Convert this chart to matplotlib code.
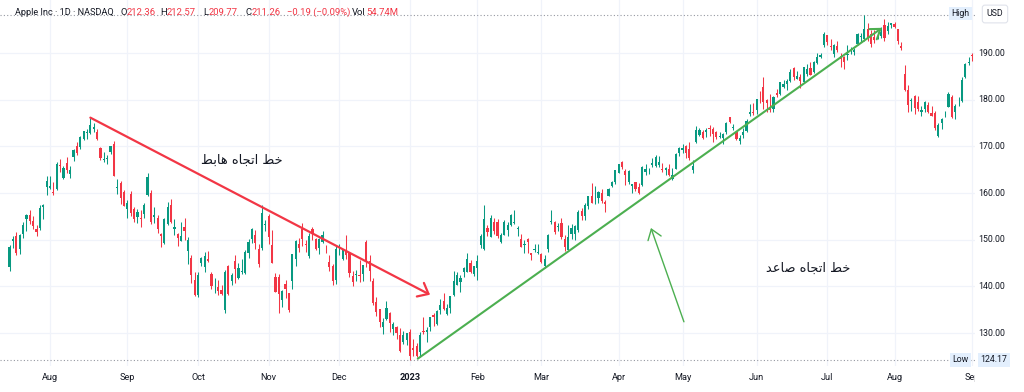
import matplotlib
matplotlib.use("Agg")
import matplotlib.pyplot as plt
import matplotlib.transforms as mtransforms
from matplotlib.patches import Rectangle
import pandas as pd

# ---------------- data ----------------
holidays = ["2022-09-05", "2022-11-24", "2022-12-26", "2023-01-02", "2023-01-16",
            "2023-02-20", "2023-04-07", "2023-05-29", "2023-06-19", "2023-07-04"]
dates = pd.bdate_range("2022-07-14", "2023-09-01", freq="C", holidays=holidays)

opens = [
    144.08, 149.78, 150.74, 147.92, 151.12, 154.50, 155.39, 154.01, 152.26, 152.58, 156.98, 161.24,
    161.01, 160.10, 160.84, 166.01, 163.21, 166.37, 164.02, 167.68, 170.06, 169.82, 171.52, 172.78,
    172.77, 173.75, 173.03, 169.69, 167.08, 167.32, 168.78, 170.57, 161.15, 162.13, 160.31,
    156.64, 159.75, 156.47, 154.82, 154.64, 155.47, 159.59, 159.90, 154.79, 154.65, 151.21, 149.31,
    153.40, 157.34, 152.38, 151.19, 149.66, 152.74, 147.64, 146.10, 141.28,
    138.21, 145.03, 144.07, 145.81, 142.54, 140.42, 139.90, 139.13, 134.99, 144.31, 141.07, 145.49,
    141.69, 143.02, 142.87, 147.19, 150.09, 150.96, 148.07, 148.20, 153.16,
    155.08, 148.95, 142.06, 142.09, 137.11, 140.41, 138.50, 141.24, 145.82, 148.97, 152.22, 149.13,
    146.43, 152.31, 150.16, 148.13, 149.45, 148.31, 145.14, 144.29, 141.40,
    148.21, 145.96, 147.77, 147.07, 142.19, 142.36, 142.34, 142.70, 149.50, 145.35, 141.11, 136.69,
    135.11, 131.39, 132.98, 134.35, 130.92, 131.38, 129.67, 127.99, 128.41,
    130.28, 126.89, 127.13, 126.01, 130.47, 130.26, 131.25, 133.88, 132.03, 134.83, 136.82, 134.08,
    135.28, 138.12, 140.31, 140.89, 143.17, 143.16, 144.96, 142.70,
    143.97, 148.90, 148.03, 152.57, 150.64, 153.88, 153.78, 149.46, 150.95, 152.12, 153.11, 153.51,
    152.35, 150.20, 148.87, 150.09, 147.11, 147.71, 147.05,
    146.83, 144.38, 148.04, 153.79, 153.70, 152.81, 153.56, 150.21, 147.81, 151.28, 151.19, 152.16,
    156.08, 155.07, 157.32, 159.30, 158.83, 158.86, 159.94, 157.97, 159.37, 161.53, 162.44,
    164.27, 166.60, 164.74, 162.43, 161.42, 162.35, 161.22, 161.63, 164.59, 165.09, 166.10, 165.80,
    166.09, 165.05, 165.00, 165.19, 163.06, 165.19, 168.49,
    169.28, 170.09, 169.50, 164.89, 170.98, 172.48, 173.05, 173.02, 173.85, 173.62, 173.16, 171.99,
    171.71, 173.00, 176.39, 173.98, 173.13, 171.09, 172.41, 173.32, 176.96, 177.33,
    177.70, 181.03, 182.63, 179.97, 178.44, 177.90, 181.50, 181.27, 182.80, 183.37, 183.96, 186.73,
    184.41, 184.90, 183.74, 185.55, 186.83, 185.89, 187.93, 189.08, 191.63,
    193.78, 191.57, 189.84, 191.41, 189.26, 189.16, 189.68, 190.50, 190.23, 191.90, 193.35, 193.10,
    195.09, 194.10, 193.41, 193.33, 193.67, 196.02, 194.67, 196.06,
    196.24, 195.04, 191.57, 185.52, 182.13, 179.69, 180.87, 179.48, 177.32, 177.97, 178.88, 177.13,
    177.14, 172.30, 175.07, 177.06, 178.52, 180.67, 177.38, 180.09, 179.70, 184.94, 187.84,
    189.49,
]
highs = [
    148.95, 150.86, 151.57, 151.23, 153.72, 155.57, 156.28, 155.04, 153.09, 157.33, 157.64, 163.63,
    163.59, 162.41, 166.59, 167.19, 165.85, 167.81, 165.82, 169.34, 170.99, 172.17, 173.39, 173.71,
    176.15, 174.90, 173.74, 169.86, 168.71, 168.11, 170.14, 171.05, 162.90, 162.56, 160.58,
    158.42, 160.36, 157.09, 156.67, 156.36, 157.82, 164.26, 160.54, 157.10, 155.24, 151.35, 154.56,
    158.08, 158.74, 154.47, 151.47, 153.77, 154.72, 150.64, 146.72, 143.10,
    143.07, 146.22, 147.38, 147.54, 143.10, 141.89, 141.35, 140.36, 143.59, 144.52, 142.90, 146.70,
    144.95, 145.89, 147.85, 150.23, 152.49, 151.99, 149.05, 157.50, 154.24,
    155.45, 152.17, 142.80, 142.67, 139.15, 141.43, 138.55, 146.87, 150.01, 150.28, 153.59, 149.87,
    151.48, 152.70, 150.37, 150.42, 151.83, 148.88, 146.64, 144.81, 148.72,
    149.13, 148.00, 150.92, 147.30, 143.37, 143.52, 145.57, 144.50, 149.97, 146.66, 141.80, 137.65,
    135.20, 133.25, 136.81, 134.56, 132.42, 131.41, 131.03, 130.48, 129.95,
    130.90, 128.66, 127.77, 130.29, 133.41, 131.26, 133.51, 134.26, 134.92, 137.29, 138.61, 136.25,
    138.02, 143.32, 143.16, 142.43, 144.25, 147.23, 145.55, 144.34,
    146.61, 151.18, 157.38, 153.10, 155.23, 154.58, 154.33, 151.34, 154.26, 153.77, 155.50, 156.33,
    153.00, 151.30, 149.95, 150.34, 147.19, 149.17, 149.08,
    147.23, 146.71, 151.11, 156.30, 154.03, 153.47, 154.54, 150.94, 153.14, 153.40, 153.25, 156.46,
    156.74, 157.82, 159.40, 162.14, 161.55, 160.34, 160.77, 158.49, 161.05, 162.47, 165.00,
    166.29, 166.84, 165.05, 164.96, 162.03, 162.36, 162.06, 165.80, 166.32, 165.39, 167.41, 168.16,
    167.87, 166.45, 165.60, 166.31, 165.28, 168.56, 169.85,
    170.45, 170.35, 170.92, 167.04, 174.30, 173.85, 173.54, 174.03, 174.59, 174.06, 173.21, 173.14,
    172.93, 175.24, 176.39, 174.71, 173.38, 172.42, 173.90, 175.77, 178.99, 179.35,
    180.12, 181.78, 184.95, 180.12, 181.21, 180.84, 182.23, 183.89, 184.15, 184.39, 186.52, 186.99,
    186.10, 185.41, 187.05, 187.56, 188.05, 188.39, 189.90, 190.07, 194.48,
    193.88, 192.98, 192.02, 192.67, 189.99, 189.30, 191.70, 191.19, 191.18, 194.32, 194.33, 198.23,
    196.47, 194.97, 194.91, 194.44, 195.64, 197.20, 196.63, 196.49,
    196.73, 195.18, 192.37, 187.38, 183.13, 180.27, 180.93, 180.75, 178.62, 179.69, 179.48, 178.54,
    177.51, 175.10, 176.13, 177.68, 181.55, 181.10, 179.15, 180.59, 184.90, 187.85, 189.12,
    189.92,
]
lows = [
    143.25, 148.20, 146.70, 146.91, 150.37, 151.94, 153.41, 152.28, 150.80, 152.16, 154.41, 159.50,
    160.89, 159.63, 160.75, 164.43, 163.00, 164.20, 163.25, 166.90, 168.19, 169.40, 171.35, 171.66,
    172.57, 173.12, 171.31, 167.14, 166.65, 166.25, 168.35, 163.56, 159.82, 157.72, 157.14,
    154.67, 154.97, 153.69, 153.61, 152.68, 154.75, 159.30, 153.37, 153.61, 151.38, 148.37, 149.10,
    153.08, 153.60, 150.91, 148.56, 149.64, 149.95, 144.84, 140.68, 138.00,
    137.69, 144.26, 143.01, 145.22, 139.45, 138.57, 138.22, 138.16, 134.37, 138.19, 140.27, 140.61,
    141.50, 142.65, 142.65, 146.00, 149.36, 148.04, 144.13, 147.82, 151.92,
    149.13, 145.00, 138.75, 134.38, 135.67, 137.49, 134.59, 139.50, 144.37, 147.43, 148.56, 147.29,
    146.15, 149.97, 147.72, 146.93, 149.34, 147.12, 143.38, 140.35, 140.55,
    146.61, 145.65, 145.77, 141.92, 140.00, 141.10, 140.90, 141.06, 144.24, 141.16, 136.03, 133.73,
    131.32, 129.89, 132.75, 130.30, 129.64, 128.72, 125.87, 127.73, 127.43,
    124.17, 125.08, 124.76, 124.89, 129.89, 128.12, 130.46, 131.44, 131.66, 134.13, 135.03, 133.77,
    134.22, 137.90, 140.30, 138.81, 141.90, 143.08, 142.85, 142.28,
    141.32, 148.17, 147.83, 150.78, 150.64, 151.17, 150.42, 149.22, 150.92, 150.86, 152.88, 153.35,
    150.85, 148.41, 147.16, 147.24, 145.72, 147.45, 146.83,
    145.01, 143.90, 147.33, 153.46, 151.13, 151.83, 150.23, 147.61, 147.70, 150.10, 149.92, 151.64,
    154.28, 154.15, 156.54, 157.81, 157.68, 157.85, 157.87, 155.98, 159.35, 161.27, 161.91,
    164.22, 165.11, 161.80, 162.00, 160.08, 160.51, 159.78, 161.42, 163.82, 164.03, 165.65, 165.54,
    165.56, 164.49, 163.89, 163.73, 162.80, 165.19, 167.88,
    168.64, 167.54, 167.16, 164.31, 170.76, 172.11, 171.60, 171.90, 172.17, 171.00, 171.47, 171.80,
    170.42, 172.58, 174.94, 173.45, 171.28, 170.52, 171.69, 173.11, 176.57, 176.76,
    176.93, 179.26, 178.04, 177.43, 177.32, 177.46, 180.63, 180.97, 182.44, 182.02, 183.78, 184.27,
    184.41, 182.59, 183.67, 185.01, 185.23, 185.67, 187.60, 188.94, 191.26,
    191.76, 190.62, 189.20, 190.24, 187.04, 186.60, 188.47, 189.78, 189.63, 191.81, 192.42, 192.65,
    192.50, 191.23, 192.25, 192.92, 193.32, 192.55, 194.14, 195.26,
    195.28, 191.85, 190.69, 181.92, 177.35, 177.58, 177.01, 177.60, 176.55, 177.31, 177.05, 176.50,
    173.48, 171.96, 173.74, 176.25, 178.33, 176.01, 175.82, 178.55, 179.50, 184.74, 187.48,
    188.28,
]
closes = [
    148.47, 150.17, 147.07, 151.00, 153.04, 155.35, 154.09, 152.95, 151.60, 156.79, 157.35, 162.51,
    161.51, 160.01, 166.13, 165.81, 165.35, 164.87, 164.92, 169.24, 168.49, 172.10, 173.19, 173.03,
    174.55, 174.15, 171.52, 167.57, 167.23, 167.53, 170.03, 163.62, 161.38, 158.91, 157.22,
    157.96, 155.81, 154.53, 155.96, 154.46, 157.37, 163.43, 153.84, 155.31, 152.37, 150.70, 154.48,
    156.90, 153.72, 152.74, 150.43, 150.77, 151.76, 149.84, 142.48, 138.20,
    142.45, 146.10, 146.40, 145.43, 140.09, 140.42, 138.98, 138.34, 142.99, 138.38, 142.41, 143.75,
    143.86, 143.39, 147.27, 149.45, 152.34, 149.35, 144.80, 155.74, 153.34,
    150.65, 145.03, 138.88, 138.38, 138.92, 139.50, 134.87, 146.87, 149.70, 148.28, 150.04, 148.79,
    150.72, 151.29, 148.01, 150.18, 151.07, 148.11, 144.22, 141.17, 148.03,
    148.31, 147.81, 146.63, 142.91, 140.94, 142.65, 142.16, 144.49, 145.47, 143.21, 136.50, 134.51,
    132.37, 132.30, 135.45, 132.23, 131.86, 130.03, 126.04, 129.61, 129.93,
    125.07, 126.36, 125.02, 129.62, 130.15, 130.73, 133.49, 133.41, 134.76, 135.94, 135.21, 135.27,
    137.87, 141.11, 142.53, 141.86, 143.96, 145.93, 143.00, 144.29,
    145.43, 150.82, 154.50, 151.73, 154.65, 151.92, 150.87, 151.01, 153.85, 153.20, 155.33, 153.71,
    152.55, 148.48, 148.91, 149.40, 146.71, 147.92, 147.41,
    145.31, 145.91, 151.03, 153.83, 151.60, 152.87, 150.59, 148.50, 150.47, 152.59, 152.99, 155.85,
    155.00, 157.40, 159.28, 157.83, 158.93, 160.25, 158.28, 157.65, 160.77, 162.36, 164.90,
    166.17, 165.63, 163.76, 164.66, 162.03, 160.80, 160.10, 165.56, 165.21, 165.23, 166.47, 167.63,
    166.65, 165.02, 165.33, 163.77, 163.76, 168.41, 169.68,
    169.59, 168.54, 167.45, 165.79, 173.57, 173.50, 171.77, 173.56, 173.75, 172.57, 172.07, 172.07,
    172.69, 175.05, 175.16, 174.20, 171.56, 171.84, 172.99, 175.43, 177.30, 177.25,
    180.09, 180.95, 179.58, 179.21, 177.82, 180.57, 180.96, 183.79, 183.31, 183.95, 186.01, 184.92,
    185.01, 183.96, 187.00, 186.68, 185.27, 188.06, 189.25, 189.59, 193.97,
    192.46, 191.33, 191.81, 190.68, 188.61, 188.08, 189.77, 190.54, 190.69, 193.99, 193.73, 195.10,
    193.13, 191.94, 192.75, 193.62, 194.50, 193.22, 195.83, 196.45,
    195.61, 192.58, 191.17, 181.99, 178.85, 179.80, 178.19, 177.97, 177.79, 179.46, 177.45, 176.57,
    174.00, 174.49, 175.84, 177.23, 181.12, 176.38, 178.61, 180.19, 184.12, 187.65, 187.87,
    189.46,
]

price_ticks = [130, 140, 150, 160, 170, 180, 190]
high_value = 198.23
low_value = 124.17

# trend-line anchors (bar index, price)
down_line = [(24, 176.15), (124.95, 138.2)]
up_line = [(121.3, 124.5), (259.3, 195.4)]
up_arrow = [(200.4, 132.4), (190.6, 152.5)]
down_label = "خط اتجاه هابط"
up_label = "خط اتجاه صاعد"
down_label_pos = (69.1, 167.1)
up_label_pos = (237.3, 143.9)

header_parts = [("Apple Inc · 1D · NASDAQ", "#131722", 15),
                ("O", "#131722", 120.5), ("212.36", "#F23645", 127),
                ("H", "#131722", 160), ("212.57", "#F23645", 166.5),
                ("L", "#131722", 203), ("209.77", "#F23645", 208.5),
                ("C", "#131722", 245), ("211.26", "#F23645", 251.5),
                ("−0.19 (−0.09%)", "#F23645", 287),
                ("Vol", "#131722", 352), ("54.74M", "#F23645", 366)]

# ---------------- helpers ----------------
_forms = {
    'ا': ('\uFE8D', '\uFE8E', None, None),
    'ب': ('\uFE8F', '\uFE90', '\uFE91', '\uFE92'),
    'ت': ('\uFE95', '\uFE96', '\uFE97', '\uFE98'),
    'ج': ('\uFE9D', '\uFE9E', '\uFE9F', '\uFEA0'),
    'خ': ('\uFEA5', '\uFEA6', '\uFEA7', '\uFEA8'),
    'د': ('\uFEA9', '\uFEAA', None, None),
    'ص': ('\uFEB9', '\uFEBA', '\uFEBB', '\uFEBC'),
    'ط': ('\uFEC1', '\uFEC2', '\uFEC3', '\uFEC4'),
    'ع': ('\uFEC9', '\uFECA', '\uFECB', '\uFECC'),
    'ه': ('\uFEE9', '\uFEEA', '\uFEEB', '\uFEEC'),
}


def shape_arabic(s):
    out = []
    for i, ch in enumerate(s):
        if ch not in _forms:
            out.append(ch)
            continue
        prev = s[i - 1] if i > 0 else None
        nxt = s[i + 1] if i + 1 < len(s) else None
        jp = prev in _forms and _forms[prev][2] is not None
        jn = nxt in _forms and _forms[ch][2] is not None
        iso, fin, ini, med = _forms[ch]
        if jp and jn:
            out.append(med)
        elif jp:
            out.append(fin)
        elif jn:
            out.append(ini)
        else:
            out.append(iso)
    return "".join(reversed(out))


# ---------------- figure ----------------
W, H = 1024, 392
fig = plt.figure(figsize=(W / 100, H / 100), dpi=100)
fig.patch.set_facecolor("white")
ax = fig.add_axes([0, 26 / H, 975 / W, 366 / H])
ax.set_facecolor("white")
ax.set_xlim(-2.85, 286.9)
ax.set_ylim(122.93, 201.36)
for sp in ax.spines.values():
    sp.set_visible(False)
ax.set_xticks([])
ax.set_yticks([])

n = len(closes)
xs = list(range(n))
month_starts = [i for i in range(1, len(dates)) if dates[i].month != dates[i - 1].month]

grid_c = "#f0f3fa"
for p in price_ticks:
    ax.axhline(p, color=grid_c, lw=0.9, zorder=0)
for m in month_starts:
    ax.axvline(m, color=grid_c, lw=0.9, zorder=0)

up_c, dn_c = "#089981", "#F23645"
cols = [up_c if c >= o else dn_c for o, c in zip(opens, closes)]
ax.vlines(xs, lows, highs, colors=cols, lw=0.75, zorder=2)
bottoms = [min(o, c) for o, c in zip(opens, closes)]
heights = [max(abs(c - o), 0.15) for o, c in zip(opens, closes)]
ax.bar(xs, heights, bottom=bottoms, width=0.65, color=cols, linewidth=0, zorder=3)

# high / low dotted lines
ax.axhline(high_value, color="#9598a1", lw=0.8, ls=(0, (1, 2)), zorder=1)
ax.axhline(low_value, color="#9598a1", lw=0.8, ls=(0, (1, 2)), zorder=1)

# trend lines with open arrow heads
red_line_c = "#F23645"
green_line_c = "#4CAF50"
ax.annotate("", xy=down_line[1], xytext=down_line[0],
            arrowprops=dict(arrowstyle="->,head_length=0.66,head_width=0.55", color=red_line_c,
                            lw=1.6, shrinkA=0, shrinkB=0, mutation_scale=10), zorder=5)
ax.annotate("", xy=up_line[1], xytext=up_line[0],
            arrowprops=dict(arrowstyle="->,head_length=0.66,head_width=0.45", color=green_line_c,
                            lw=1.5, shrinkA=0, shrinkB=0, mutation_scale=10), zorder=5)
ax.annotate("", xy=up_arrow[1], xytext=up_arrow[0],
            arrowprops=dict(arrowstyle="->,head_length=0.7,head_width=0.5", color=green_line_c,
                            lw=1.0, shrinkA=0, shrinkB=0, mutation_scale=10), zorder=5)

ax.text(*down_label_pos, shape_arabic(down_label), family="DejaVu Sans", fontsize=9.3,
        color="#131722", ha="center", va="center", zorder=6)
ax.text(*up_label_pos, shape_arabic(up_label), family="DejaVu Sans", fontsize=9.3,
        color="#131722", ha="center", va="center", zorder=6)

# x-axis labels
xt = mtransforms.blended_transform_factory(ax.transData, fig.transFigure)
for m in month_starts:
    d = dates[m]
    if d.month == 1:
        ax.text(m, 1 - 377 / H, str(d.year), transform=xt, ha="center", va="center",
                fontsize=6.6, family="Roboto", fontweight="bold", color="#131722", clip_on=False)
    else:
        ax.text(m, 1 - 377 / H, d.strftime("%b"), transform=xt, ha="center", va="center",
                fontsize=6.6, family="Roboto", color="#131722", clip_on=False)

# price axis panel (covers the cut label)
fig.patches.append(Rectangle((975 / W, 0), 49 / W, 1, transform=fig.transFigure,
                             facecolor="white", edgecolor="none", zorder=2))

yt = mtransforms.blended_transform_factory(fig.transFigure, ax.transData)
for p in price_ticks:
    fig.text(992 / W, 0, f"{p:.2f}", transform=yt, ha="center", va="center",
             fontsize=6.3, family="Roboto", color="#131722")
    fig.texts[-1].set_y(p)

box_c = "#e3effd"
fig.text(960.5 / W, 1 - 13.5 / H, "High", ha="center", va="center", fontsize=6.3,
         family="Roboto", color="#131722",
         bbox=dict(boxstyle="square,pad=0.25", facecolor=box_c, edgecolor="none"))
fig.text(960.5 / W, 1 - 360 / H, "Low", ha="center", va="center", fontsize=6.3,
         family="Roboto", color="#131722",
         bbox=dict(boxstyle="square,pad=0.25", facecolor=box_c, edgecolor="none"))
fig.text(994 / W, 1 - 360 / H, f"{low_value:.2f}", ha="center", va="center", fontsize=6.3,
         family="Roboto", color="#131722",
         bbox=dict(boxstyle="square,pad=0.3", facecolor=box_c, edgecolor="none"))
fig.text(995 / W, 1 - 14 / H, "USD", ha="center", va="center", fontsize=6.3,
         family="Roboto", color="#131722",
         bbox=dict(boxstyle="round,pad=0.5,rounding_size=0.3", facecolor="white",
                   edgecolor="#e0e3eb", lw=0.8))

# header
for i, (txt, col, xpix) in enumerate(header_parts):
    fig.text(xpix / W, 1 - 12.7 / H, txt, ha="left", va="center",
             fontsize=6.55 if i == 0 else 6.8, family="Roboto", color=col)

fig.savefig("out.png", dpi=100, facecolor="white")
